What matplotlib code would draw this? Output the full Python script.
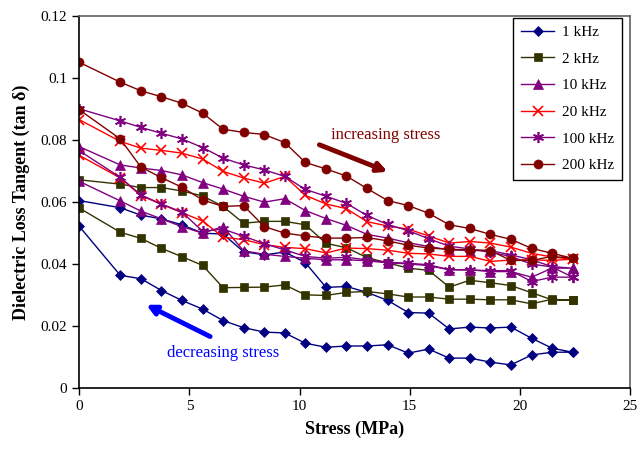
import matplotlib
matplotlib.use('Agg')
import matplotlib.pyplot as plt

plt.rcParams['font.family'] = ['Liberation Serif', 'DejaVu Serif']

# stress steps (MPa), same for loading and unloading
stress = [0, 1.86, 2.8, 3.73, 4.66, 5.6, 6.53, 7.46, 8.4, 9.33, 10.26, 11.2,
          12.13, 13.06, 14.0, 14.93, 15.86, 16.79, 17.73, 18.66, 19.59, 20.53,
          21.46, 22.39]

# tan delta, increasing stress branch
up_1k = [0.0604, 0.0581, 0.0557, 0.0545, 0.0526, 0.0499, 0.0496, 0.0439, 0.0429,
         0.0438, 0.0404, 0.0324, 0.0327, 0.0308, 0.0282, 0.0243, 0.0241, 0.0190,
         0.0196, 0.0193, 0.0196, 0.0160, 0.0128, 0.0115]
up_2k = [0.0671, 0.0657, 0.0646, 0.0646, 0.0635, 0.0619, 0.0585, 0.0531, 0.0537,
         0.0537, 0.0526, 0.0466, 0.0452, 0.0420, 0.0403, 0.0386, 0.0379, 0.0325,
         0.0347, 0.0339, 0.0330, 0.0307, 0.0284, 0.0282]
up_10k = [0.0778, 0.0719, 0.0709, 0.0701, 0.0687, 0.0662, 0.0641, 0.0618, 0.0599,
          0.0610, 0.0572, 0.0546, 0.0524, 0.0495, 0.0483, 0.0468, 0.0456, 0.0445,
          0.0443, 0.0443, 0.0429, 0.0413, 0.0391, 0.0386]
up_20k = [0.0865, 0.0795, 0.0773, 0.0766, 0.0757, 0.0738, 0.0698, 0.0677, 0.0660,
          0.0682, 0.0621, 0.0593, 0.0578, 0.0536, 0.0522, 0.0512, 0.0490, 0.0467,
          0.0472, 0.0467, 0.0454, 0.0434, 0.0422, 0.0415]
up_100k = [0.0900, 0.0861, 0.0840, 0.0821, 0.0803, 0.0775, 0.0741, 0.0719, 0.0703,
           0.0682, 0.0640, 0.0618, 0.0595, 0.0556, 0.0527, 0.0507, 0.0481, 0.0457,
           0.0448, 0.0437, 0.0424, 0.0399, 0.0390, 0.0357]
up_200k = [0.1050, 0.0986, 0.0958, 0.0939, 0.0918, 0.0886, 0.0834, 0.0824, 0.0817,
           0.0791, 0.0727, 0.0706, 0.0683, 0.0643, 0.0604, 0.0588, 0.0563, 0.0526,
           0.0514, 0.0495, 0.0479, 0.0450, 0.0434, 0.0418]

# tan delta, decreasing stress branch (listed in ascending stress order)
down_1k = [0.0521, 0.0363, 0.0352, 0.0314, 0.0282, 0.0254, 0.0217, 0.0194, 0.0180,
           0.0177, 0.0144, 0.0131, 0.0135, 0.0135, 0.0139, 0.0112, 0.0125, 0.0096,
           0.0096, 0.0083, 0.0074, 0.0106, 0.0115, 0.0115]
down_2k = [0.0580, 0.0502, 0.0482, 0.0450, 0.0423, 0.0395, 0.0323, 0.0324, 0.0325,
           0.0332, 0.0300, 0.0298, 0.0308, 0.0311, 0.0303, 0.0293, 0.0293, 0.0286,
           0.0286, 0.0284, 0.0284, 0.0271, 0.0286, 0.0282]
down_10k = [0.0666, 0.0603, 0.0570, 0.0545, 0.0520, 0.0499, 0.0520, 0.0442, 0.0431,
            0.0424, 0.0418, 0.0413, 0.0413, 0.0410, 0.0403, 0.0400, 0.0394, 0.0381,
            0.0381, 0.0375, 0.0375, 0.0357, 0.0386, 0.0386]
down_20k = [0.0750, 0.0677, 0.0620, 0.0592, 0.0565, 0.0538, 0.0486, 0.0478, 0.0462,
            0.0453, 0.0449, 0.0435, 0.0451, 0.0449, 0.0444, 0.0434, 0.0432, 0.0424,
            0.0424, 0.0408, 0.0412, 0.0413, 0.0411, 0.0415]
down_100k = [0.0765, 0.0679, 0.0622, 0.0593, 0.0567, 0.0505, 0.0512, 0.0489, 0.0465,
             0.0445, 0.0424, 0.0418, 0.0421, 0.0413, 0.0405, 0.0402, 0.0397, 0.0381,
             0.0380, 0.0378, 0.0378, 0.0343, 0.0357, 0.0357]
down_200k = [0.0897, 0.0803, 0.0712, 0.0678, 0.0647, 0.0606, 0.0585, 0.0588, 0.0520,
             0.0499, 0.0490, 0.0483, 0.0483, 0.0485, 0.0474, 0.0460, 0.0451, 0.0447,
             0.0445, 0.0443, 0.0411, 0.0411, 0.0424, 0.0418]

labels = ['1 kHz', '2 kHz', '10 kHz', '20 kHz', '100 kHz', '200 kHz']
ups = [up_1k, up_2k, up_10k, up_20k, up_100k, up_200k]
downs = [down_1k, down_2k, down_10k, down_20k, down_100k, down_200k]
colors = ['#000080', '#333300', '#800080', '#ff0000', '#800080', '#800000']
markers = ['D', 's', '^', 'x', (6, 2, 0), 'o']
msizes = [5, 6, 7, 7, 8, 6.5]

fig = plt.figure(figsize=(6.39, 4.51), dpi=100)
ax = fig.add_axes([0.124, 0.140, 0.862, 0.825])

for lab, up, dn, c, m, ms in zip(labels, ups, downs, colors, markers, msizes):
    xs = stress + stress[::-1]
    ys = up + dn[::-1]
    ax.plot(xs, ys, color=c, marker=m, markersize=ms, lw=1.0,
            markeredgewidth=1.2 if m in ('x', (6, 2, 0)) else 0.5,
            markeredgecolor=c, markerfacecolor=c, label=lab)

ax.set_xlim(0, 25)
ax.set_ylim(0, 0.12)
ax.set_xticks([0, 5, 10, 15, 20, 25])
ax.set_yticks([0, 0.02, 0.04, 0.06, 0.08, 0.1, 0.12])
ax.set_yticklabels(['0', '0.02', '0.04', '0.06', '0.08', '0.1', '0.12'])
ax.tick_params(direction='out', length=5, width=1, labelsize=11, colors='black')
for s in ['top', 'right']:
    ax.spines[s].set_color('#606060')
for s in ax.spines.values():
    s.set_linewidth(1.2)

ax.set_xlabel('Stress (MPa)', fontsize=13, fontweight='bold', labelpad=6)
ax.set_ylabel('Dielectric Loss Tangent (tan \u03b4)', fontsize=13,
              fontweight='bold', labelpad=8)

leg = ax.legend(loc='upper right', bbox_to_anchor=(0.985, 0.995), fontsize=11,
                frameon=True, fancybox=False, edgecolor='black', framealpha=1,
                handlelength=2.2, labelspacing=0.85, borderpad=0.5,
                handletextpad=0.5, borderaxespad=0)
leg.get_frame().set_linewidth(1.0)

# annotations
ax.text(11.43, 0.0816, 'increasing stress', color='#800000', fontsize=12,
        va='center', ha='left')
ax.annotate('', xy=(14.0, 0.0697), xytext=(10.9, 0.0784),
            arrowprops=dict(arrowstyle='-|>', lw=3.5, color='#800000',
                            mutation_scale=14, shrinkA=0, shrinkB=0))
ax.text(3.97, 0.0112, 'decreasing stress', color='#0000ff', fontsize=12,
        va='center', ha='left')
ax.annotate('', xy=(3.04, 0.0268), xytext=(5.94, 0.01655),
            arrowprops=dict(arrowstyle='-|>', lw=3.5, color='#0000ff',
                            mutation_scale=14, shrinkA=0, shrinkB=0))

fig.savefig('out.png', dpi=100)
